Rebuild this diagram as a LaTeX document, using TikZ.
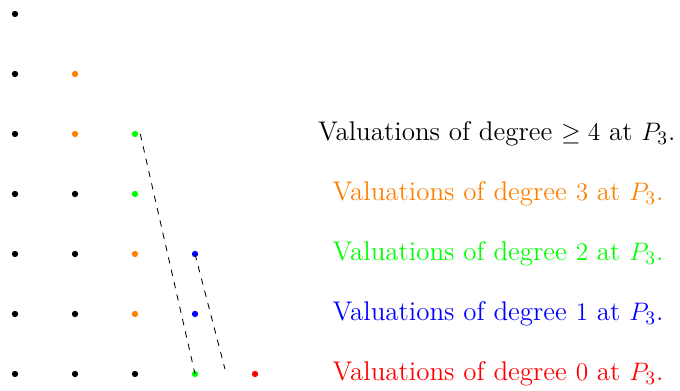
\documentclass[tikz,border=0pt]{standalone}
\usepackage{amsmath,amssymb}
\usepackage{tikz}
\usetikzlibrary{positioning,calc}
\tikzset{
  pt/.style={circle, fill=#1, inner sep=0pt, minimum size=3pt},
  lab/.style={font=\fontsize{12.8}{15}\selectfont, text=#1},
  gap/.style={black, dashed},
}

\begin{document}
\begin{tikzpicture}[x=1cm,y=1cm]
\useasboundingbox (-0.25,-0.267) rectangle (11.083,6.233);
% dots, column i, row j
\foreach \i/\j/\c in {0/6/black,
    0/5/black, 1/5/orange,
    0/4/black, 1/4/orange, 2/4/green,
    0/3/black, 1/3/black, 2/3/green,
    0/2/black, 1/2/black, 2/2/orange, 3/2/blue,
    0/1/black, 1/1/black, 2/1/orange, 3/1/blue,
    0/0/black, 1/0/black, 2/0/black, 3/0/green, 4/0/red}
  \node[pt=\c] (p\i\j) at (\i,\j) {};
% labels
\node[lab=black]  (l4) at (8.03,4) {Valuations of degree $\geq 4$ at $P_3$.};
\node[lab=orange] (l3) at (8.05,3) {Valuations of degree $3$ at $P_3$.};
\node[lab=green]  (l2) at (8.05,2) {Valuations of degree $2$ at $P_3$.};
\node[lab=blue]   (l1) at (8.05,1) {Valuations of degree $1$ at $P_3$.};
\node[lab=red]    (l0) at (8.05,0) {Valuations of degree $0$ at $P_3$.};
% dashed separators
\coordinate (e0) at (3.5,0.08);
\draw[gap] ([xshift=2.5pt]p24.center) -- (p30.center);
\draw[gap] (p32.center) -- (e0);
\end{tikzpicture}
\end{document}
